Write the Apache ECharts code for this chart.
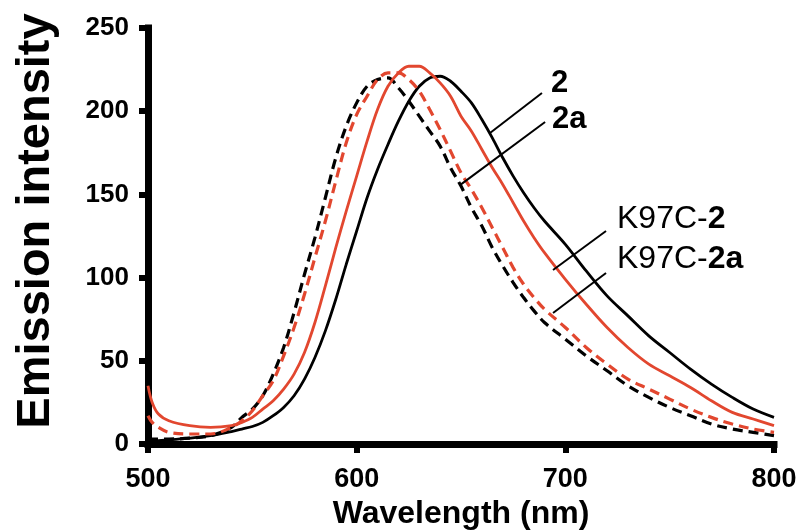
<!DOCTYPE html>
<html>
<head>
<meta charset="utf-8">
<script src="https://cdn.jsdelivr.net/npm/echarts@6/dist/echarts.min.js"></script>
<style>
  html, body { margin: 0; padding: 0; background: #ffffff; }
  #chart { width: 804px; height: 531px; }
</style>
</head>
<body>
<div id="chart"></div>
<script>
// Emission spectra: wavelength (nm) vs emission intensity
const wavelengths = [500,502,505,510,520,530,540,545,550,555,560,565,570,575,580,585,590,595,600,605,610,615,620,625,630,635,640,645,650,655,660,665,670,675,680,685,690,700,710,720,730,740,750,760,770,780,790,800];

const emission2 = [1,1.5,2,2.5,3.5,5,7.5,9,10.5,13,17,22,29,39,52,68,87,108,128,148,165,180,194,206,215,220,221,218,212,205,195,184,172,161,151,142,134,120,104,89,77,65,55,45,36,28,21,16];
const emission2a = [3,3,3,3,3.5,5,10,16,21,29,42,58,79,102,124,148,172,191,205,215,219,220,214,206,197,188,179,166,155,142,131,118,107,97,88,80,73,63,53,44,35,28,22,17,12,9,7,5];
const emissionK97C2 = [35,25,18,14,11,10,11,13,16,21,26,33,42,55,73,95,118,140,161,182,201,215,223,227,227,223,217,209,197,188,177,166,156,145,134,124,115,99,84,70,58,48,41,34,26,19,15,11];
const emissionK97C2a = [17,13,10,7,6,6,10,14,20,29,38,53,70,90,112,134,158,181,198,209,219,223,223,219,212,201,189,176,163,153,142,130,118,106,96,88,81,70,58,48,39,33,27,21,16,12,9,7];

const xTicks = [500, 600, 700, 800];
const yTicks = [0, 50, 100, 150, 200, 250];

// Leader lines from each label to its curve: [start, end] in data units
const leader2 = [[688.8, 210.9], [663.9, 186.9]];
const leader2a = [[690.3, 193.5], [649.5, 155.6]];
const leaderK97C2 = [[719.5, 128.0], [694.1, 104.6]];
const leaderK97C2a = [[719.5, 102.8], [694.1, 78.7]];

const RED = '#e2472f';
const BLACK = '#000000';
const FONT = '"Liberation Sans", Arial, Helvetica, sans-serif';

function pairs(ys) { return wavelengths.map((x, i) => [x, ys[i]]); }

function leaderLine(seg) {
  return {
    silent: true,
    symbol: ['none', 'none'],
    label: { show: false },
    lineStyle: { color: BLACK, width: 2, type: 'solid' },
    emphasis: { disabled: true },
    data: [[{ coord: seg[0] }, { coord: seg[1] }]]
  };
}

function curve(name, ys, color, dashed, leader) {
  return {
    name: name,
    type: 'line',
    data: pairs(ys),
    showSymbol: false,
    smooth: 0.35,
    lineStyle: {
      color: color,
      width: dashed ? 3.2 : 2.8,
      type: dashed ? [10, 6] : 'solid'
    },
    emphasis: { disabled: true },
    markLine: leaderLine(leader),
    z: 2
  };
}

function axisLineStyle() {
  return { show: true, onZero: false, lineStyle: { color: BLACK, width: 7, cap: 'square' } };
}
function axisTickStyle() {
  return { show: true, inside: false, length: 9, lineStyle: { color: BLACK, width: 6 } };
}

const chart = echarts.init(document.getElementById('chart'), null, { renderer: 'canvas' });

chart.setOption({
  animation: false,
  backgroundColor: '#ffffff',
  grid: { left: 148, right: 30, top: 28, bottom: 87, containLabel: false, outerBoundsMode: 'none' },
  xAxis: {
    type: 'value',
    min: xTicks[0],
    max: xTicks[xTicks.length - 1],
    interval: 100,
    name: 'Wavelength (nm)',
    nameLocation: 'middle',
    nameGap: 54,
    nameTextStyle: { fontFamily: FONT, fontWeight: 'bold', fontSize: 32, color: BLACK },
    axisLine: axisLineStyle(),
    axisTick: axisTickStyle(),
    splitLine: { show: false },
    axisLabel: { fontFamily: FONT, fontWeight: 'bold', fontSize: 27, color: BLACK, margin: 22 }
  },
  yAxis: {
    type: 'value',
    min: yTicks[0],
    max: yTicks[yTicks.length - 1],
    interval: 50,
    axisLine: axisLineStyle(),
    axisTick: axisTickStyle(),
    splitLine: { show: false },
    axisLabel: { fontFamily: FONT, fontWeight: 'bold', fontSize: 26, color: BLACK, margin: 19 }
  },
  series: [
    curve('2', emission2, BLACK, false, leader2),
    curve('2a', emission2a, BLACK, true, leader2a),
    curve('K97C-2', emissionK97C2, RED, false, leaderK97C2),
    curve('K97C-2a', emissionK97C2a, RED, true, leaderK97C2a)
  ]
});

// Curve labels placed just beyond the free end of each leader line
function labelAt(seg, dx, dy, text, rich) {
  const p = chart.convertToPixel({ gridIndex: 0 }, seg[0]);
  return {
    type: 'text',
    x: p[0] + dx,
    y: p[1] + dy,
    style: { text: text, rich: rich, align: 'left', verticalAlign: 'middle', fill: BLACK },
    silent: true,
    z: 10
  };
}

const boldRich = { b: { fontFamily: FONT, fontWeight: 'bold', fontSize: 31, fill: BLACK } };
const mixedRich = {
  n: { fontFamily: FONT, fontWeight: 'normal', fontSize: 32, fill: BLACK },
  b: { fontFamily: FONT, fontWeight: 'bold', fontSize: 32, fill: BLACK }
};

chart.setOption({
  graphic: [
    labelAt(leader2, 9, -10, '{b|2}', boldRich),
    labelAt(leader2a, 7, -3, '{b|2a}', boldRich),
    labelAt(leaderK97C2, 11, -12, '{n|K97C-}{b|2}', mixedRich),
    labelAt(leaderK97C2a, 11, -14, '{n|K97C-}{b|2a}', mixedRich),
    {
      type: 'text',
      x: 36,
      y: 221,
      rotation: Math.PI / 2,
      style: {
        text: 'Emission intensity',
        fontFamily: FONT, fontWeight: 'bold', fontSize: 47, fill: BLACK,
        align: 'center', verticalAlign: 'middle'
      },
      silent: true
    }
  ]
});
</script>
</body>
</html>
